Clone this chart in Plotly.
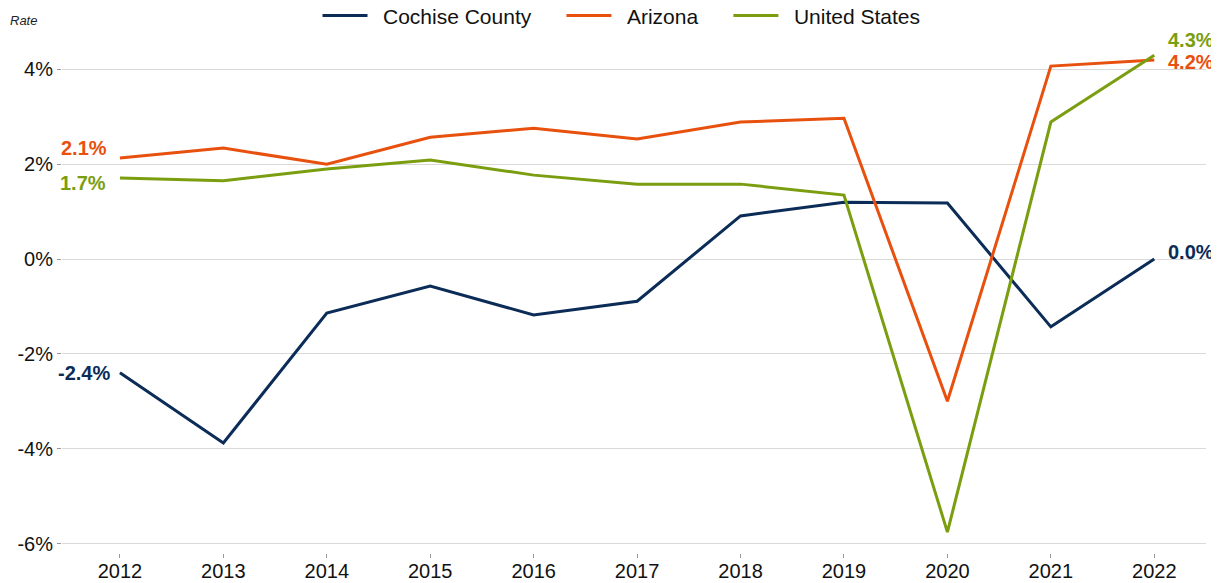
import plotly.graph_objects as go

years = [2012, 2013, 2014, 2015, 2016, 2017, 2018, 2019, 2020, 2021, 2022]
cochise = [-2.4, -3.88, -1.14, -0.57, -1.18, -0.89, 0.91, 1.20, 1.18, -1.43, 0.0]
arizona = [2.13, 2.34, 2.0, 2.57, 2.76, 2.53, 2.89, 2.97, -3.0, 4.07, 4.2]
usa = [1.71, 1.65, 1.9, 2.09, 1.77, 1.58, 1.58, 1.35, -5.76, 2.89, 4.3]

series = [
    ("Cochise County", cochise, "#0b2c57"),
    ("Arizona", arizona, "#e8500e"),
    ("United States", usa, "#7a9e0f"),
]
yticks = [-6, -4, -2, 0, 2, 4]
ytick_text = ["-6%", "-4%", "-2%", "0%", "2%", "4%"]

fig = go.Figure()
for name, vals, color in series:
    fig.add_trace(go.Scatter(x=years, y=vals, name="\u2002" + name + "\u2003\u2009", mode="lines",
                             line=dict(color=color, width=3)))

font = "Liberation Sans, Arial, sans-serif"
start_shift = {"Cochise County": (-8, 0), "Arizona": (-11, 10), "United States": (-12, -5)}
end_shift = {"Cochise County": 7, "Arizona": -2, "United States": 15}
for name, vals, color in series:
    sx, sy = start_shift[name]
    fig.add_annotation(x=years[0], y=vals[0], text=f"<b>{vals[0]:.1f}%</b>",
                       xanchor="right", yanchor="middle", showarrow=False,
                       xshift=sx, yshift=sy,
                       font=dict(family=font, size=20, color=color))
    fig.add_annotation(x=years[-1], y=vals[-1], text=f"<b>{vals[-1]:.1f}%</b>",
                       xanchor="left", yanchor="middle", showarrow=False,
                       xshift=12, yshift=end_shift[name],
                       font=dict(family=font, size=20, color=color))

fig.add_annotation(x=0, y=1, xref="paper", yref="paper", xanchor="left", yanchor="middle",
                   text="<i>Rate</i>", showarrow=False, xshift=-54, yshift=20,
                   font=dict(family=font, size=13, color="#222"))

fig.update_layout(
    width=1211, height=575,
    margin=dict(l=54, r=13, t=32, b=30, autoexpand=False),
    paper_bgcolor="white", plot_bgcolor="white",
    font=dict(family=font, size=20, color="#111"),
    legend=dict(orientation="h", x=0.5, xanchor="center", y=1.047, yanchor="middle",
                font=dict(size=21), traceorder="normal", itemwidth=45),
    showlegend=True,
)
fig.update_xaxes(range=[2011.44, 2022.5], tickvals=years, showgrid=False,
                 ticks="outside", ticklen=4, tickcolor="#999", zeroline=False,
                 showline=False, tickfont=dict(size=20), automargin=False,
                 ticklabelstandoff=-4)
fig.update_yaxes(range=[-6.2, 4.62], tickvals=yticks, ticktext=ytick_text,
                 showgrid=True, gridcolor="#d9d9d9", gridwidth=1, zeroline=False,
                 ticks="outside", ticklen=4, tickcolor="#999", showline=False,
                 tickfont=dict(size=20), automargin=False)

fig.write_html("out.html")
